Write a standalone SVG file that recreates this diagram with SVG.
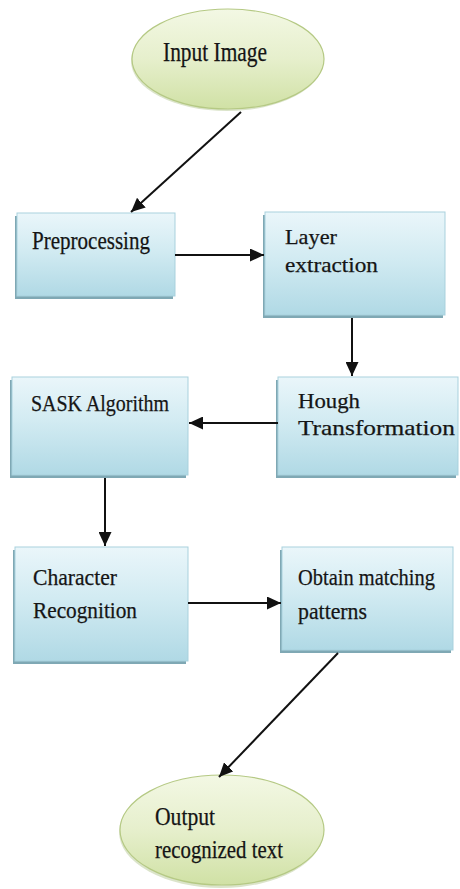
<svg xmlns="http://www.w3.org/2000/svg" width="460" height="889" viewBox="0 0 460 889">
  <defs>
    <linearGradient id="boxFill" x1="0" y1="0" x2="0" y2="1">
      <stop offset="0" stop-color="#eaf6fa"/>
      <stop offset="0.45" stop-color="#d2ebf2"/>
      <stop offset="1" stop-color="#b0d9e5"/>
    </linearGradient>
    <linearGradient id="ovalFill" x1="0" y1="0" x2="0" y2="1">
      <stop offset="0" stop-color="#f3f8e4"/>
      <stop offset="0.5" stop-color="#e6efcc"/>
      <stop offset="1" stop-color="#d0e1a5"/>
    </linearGradient>
    <marker id="arrow" markerUnits="userSpaceOnUse" markerWidth="15" markerHeight="13" refX="14" refY="6.5" orient="auto">
      <path d="M0,0 L14,6.5 L0,13 z" fill="#111"/>
    </marker>
    <style>
      .box { fill: url(#boxFill); stroke: #a9d1dd; stroke-width: 1; }
      .shadow { fill: #7fa8b4; }
      .oval { fill: url(#ovalFill); stroke: #b5c984; stroke-width: 1.2; }
      .ovalShadow { fill: #c3d2a6; opacity: 0.6; }
      .label { font-family: "Liberation Serif", "Times New Roman", serif; fill: #151515; stroke: #151515; stroke-width: 0.25; }
      .edge { stroke: #111; stroke-width: 2; fill: none; marker-end: url(#arrow); }
    </style>
  </defs>

  <rect width="460" height="889" fill="#ffffff"/>

  <!-- start / end ovals -->
  <g id="input-image">
    <ellipse class="ovalShadow" cx="227" cy="61" rx="96" ry="50"/>
    <ellipse class="oval" cx="228" cy="59" rx="96" ry="50"/>
    <text class="label" x="163" y="61" font-size="27" textLength="104" lengthAdjust="spacingAndGlyphs">Input Image</text>
  </g>

  <g id="preprocessing">
    <rect class="shadow" x="15" y="216" width="158" height="83"/>
    <rect class="box" x="17" y="213" width="158" height="83"/>
    <text class="label" x="32" y="249" font-size="25" textLength="118" lengthAdjust="spacingAndGlyphs">Preprocessing</text>
  </g>

  <g id="layer-extraction">
    <rect class="shadow" x="263" y="215" width="180" height="103"/>
    <rect class="box" x="265" y="212" width="180" height="103"/>
    <text class="label" x="285" y="244" font-size="22" textLength="52" lengthAdjust="spacingAndGlyphs">Layer</text>
    <text class="label" x="285" y="272" font-size="22" textLength="93" lengthAdjust="spacingAndGlyphs">extraction</text>
  </g>

  <g id="hough-transformation">
    <rect class="shadow" x="276" y="380" width="180" height="98"/>
    <rect class="box" x="278" y="377" width="180" height="98"/>
    <text class="label" x="298" y="408" font-size="22" textLength="62" lengthAdjust="spacingAndGlyphs">Hough</text>
    <text class="label" x="298" y="435" font-size="22" textLength="157" lengthAdjust="spacingAndGlyphs">Transformation</text>
  </g>

  <g id="sask-algorithm">
    <rect class="shadow" x="10" y="380" width="176" height="98"/>
    <rect class="box" x="12" y="377" width="176" height="98"/>
    <text class="label" x="31" y="411" font-size="24" textLength="138" lengthAdjust="spacingAndGlyphs">SASK Algorithm</text>
  </g>

  <g id="character-recognition">
    <rect class="shadow" x="13" y="550" width="173" height="114"/>
    <rect class="box" x="15" y="547" width="173" height="114"/>
    <text class="label" x="33" y="585" font-size="24" textLength="84" lengthAdjust="spacingAndGlyphs">Character</text>
    <text class="label" x="33" y="618" font-size="24" textLength="104" lengthAdjust="spacingAndGlyphs">Recognition</text>
  </g>

  <g id="obtain-matching-patterns">
    <rect class="shadow" x="280" y="550" width="171" height="103"/>
    <rect class="box" x="282" y="547" width="171" height="103"/>
    <text class="label" x="298" y="585" font-size="24" textLength="137" lengthAdjust="spacingAndGlyphs">Obtain matching</text>
    <text class="label" x="298" y="619" font-size="24" textLength="69" lengthAdjust="spacingAndGlyphs">patterns</text>
  </g>

  <g id="output-recognized-text">
    <ellipse class="ovalShadow" cx="221" cy="832" rx="102" ry="56"/>
    <ellipse class="oval" cx="222" cy="830" rx="102" ry="55"/>
    <text class="label" x="155" y="825" font-size="25" textLength="60" lengthAdjust="spacingAndGlyphs">Output</text>
    <text class="label" x="155" y="858" font-size="25" textLength="128" lengthAdjust="spacingAndGlyphs">recognized text</text>
  </g>

  <!-- connectors -->
  <g id="connectors">
    <line class="edge" x1="241" y1="112" x2="131" y2="212"/>
    <line class="edge" x1="175" y1="255" x2="264" y2="255"/>
    <line class="edge" x1="352" y1="318" x2="352" y2="376"/>
    <line class="edge" x1="278" y1="423" x2="189" y2="423"/>
    <line class="edge" x1="105" y1="478" x2="105" y2="546"/>
    <line class="edge" x1="188" y1="603" x2="281" y2="603"/>
    <line class="edge" x1="338" y1="653" x2="219" y2="777"/>
  </g>
</svg>
